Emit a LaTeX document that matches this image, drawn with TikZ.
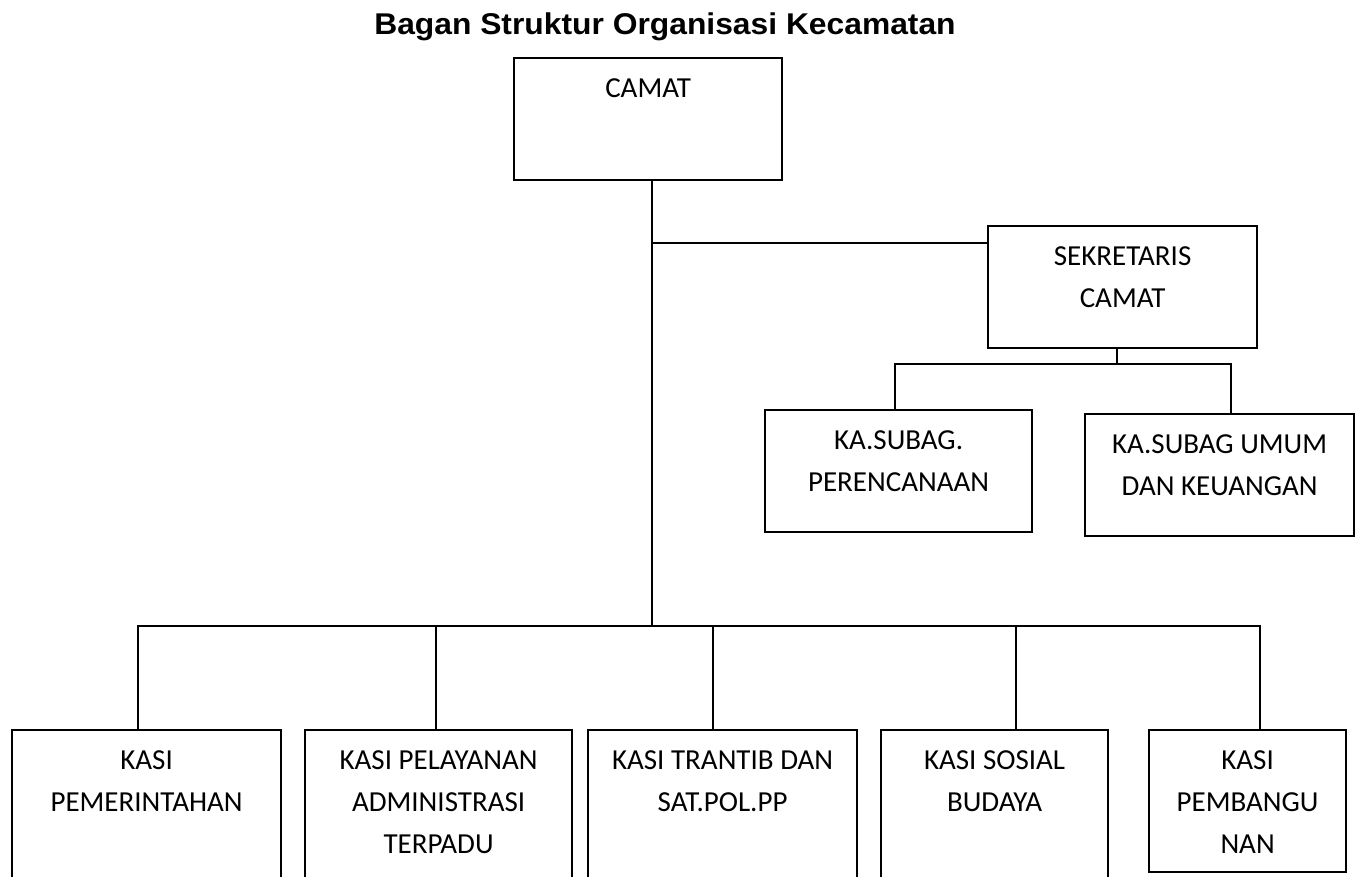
\documentclass[tikz,border=0pt]{standalone}
\usepackage{fontspec}
\setmainfont{Carlito}
\newfontfamily\titlefont{Liberation Sans}
\newcommand{\orgtext}[3]{\parbox[c][#2][t]{#1}{\centering\rule{0pt}{39pt}#3}}
\tikzset{
  org/.style={draw, line width=2.2pt, inner sep=0pt, anchor=north west, font=\fontsize{29}{42}\selectfont},
  conn/.style={line width=2pt},
}
\begin{document}
\begin{tikzpicture}[x=1pt,y=-1pt]
\path[use as bounding box, fill=white] (0,0) rectangle (1358,877);
\clip (0,0) rectangle (1358,877);
\node[font=\titlefont\bfseries\fontsize{30}{34}\selectfont, anchor=base, xscale=1.06] (title) at (665,35) {Bagan Struktur Organisasi Kecamatan};
\node[org] (camat) at (513,57) {\orgtext{268pt}{122pt}{CAMAT}};
\node[org] (sek) at (987,225) {\orgtext{269pt}{122pt}{SEKRETARIS\\CAMAT}};
\node[org] (ren) at (764,409) {\orgtext{267pt}{122pt}{KA.SUBAG.\\PERENCANAAN}};
\node[org] (umum) at (1084,413) {\orgtext{269pt}{122pt}{KA.SUBAG UMUM\\DAN KEUANGAN}};
\node[org] (k1) at (11,729) {\orgtext{269pt}{180pt}{KASI\\PEMERINTAHAN}};
\node[org] (k2) at (304,729) {\orgtext{267pt}{180pt}{KASI PELAYANAN\\ADMINISTRASI\\TERPADU}};
\node[org] (k3) at (587,729) {\orgtext{269pt}{180pt}{KASI TRANTIB DAN\\SAT.POL.PP}};
\node[org] (k4) at (880,729) {\orgtext{227pt}{180pt}{KASI SOSIAL\\BUDAYA}};
\node[org] (k5) at (1148,729) {\orgtext{197pt}{142pt}{KASI\\PEMBANGU\\NAN}};
\coordinate (bus) at (652,626);
\coordinate (sekj) at (652,243);
\coordinate (sb) at (1117,364);
\draw[conn] (camat.south -| bus) -- (bus);
\draw[conn] (sekj) -- (sekj -| sek.west);
\draw[conn] (sek.south -| sb) -- (sb);
\draw[conn] ([xshift=-3.5pt]ren.north) |- (sb) -| ([xshift=11.5pt]umum.north);
\draw[conn] ([xshift=-8.5pt]k1.north) |- ([xshift=12.5pt]k5.north |- bus) -- ([xshift=12.5pt]k5.north);
\draw[conn] ([xshift=-2.5pt]k2.north) -- ([xshift=-2.5pt]k2.north |- bus);
\draw[conn] ([xshift=-9.5pt]k3.north) -- ([xshift=-9.5pt]k3.north |- bus);
\draw[conn] ([xshift=21.5pt]k4.north) -- ([xshift=21.5pt]k4.north |- bus);
\end{tikzpicture}
\end{document}
